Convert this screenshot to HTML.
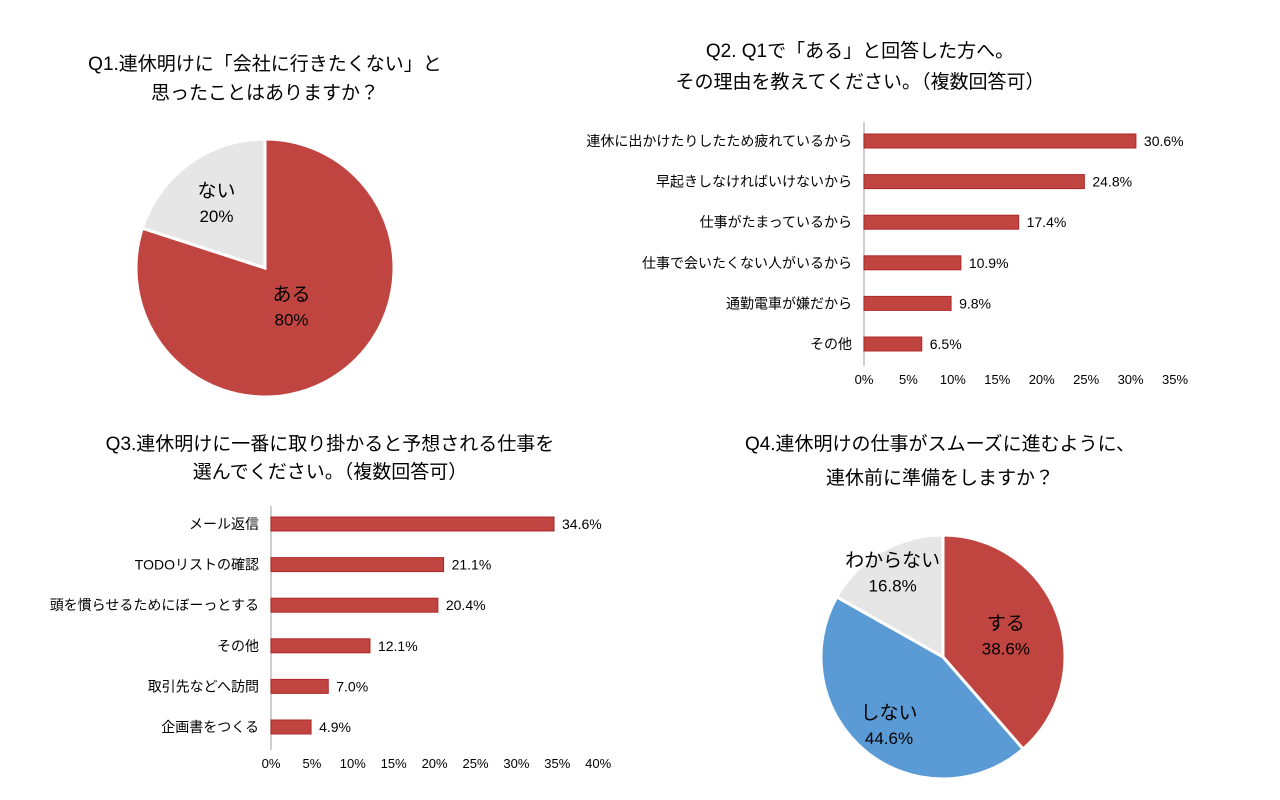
<!DOCTYPE html>
<html><head><meta charset="utf-8">
<style>
html,body{margin:0;padding:0;background:#fff;}
svg{display:block;font-family:"Liberation Sans","Noto Sans CJK JP",sans-serif;}
</style></head>
<body>
<svg id="s" width="1280" height="800" viewBox="0 0 1280 800" xmlns="http://www.w3.org/2000/svg">
<rect width="1280" height="800" fill="#fff"/>
<g font-size="19" fill="#000" text-anchor="middle">
<text x="265" y="70">Q1.連休明けに「会社に行きたくない」と</text>
<text x="265" y="99">思ったことはありますか？</text>
<text x="860" y="57">Q2. Q1で「ある」と回答した方へ。</text>
<text x="860" y="88">その理由を教えてください。（複数回答可）</text>
<text x="330" y="450">Q3.連休明けに一番に取り掛かると予想される仕事を</text>
<text x="330" y="478">選んでください。（複数回答可）</text>
<text x="940" y="450">Q4.連休明けの仕事がスムーズに進むように、</text>
<text x="940" y="484">連休前に準備をしますか？</text>
</g>
</svg>
<script>
const q1Labels=["ある","ない"];
const q1Values=[80,20];
const q1Text=["80%","20%"];
const q2Cats=["連休に出かけたりしたため疲れているから","早起きしなければいけないから","仕事がたまっているから","仕事で会いたくない人がいるから","通勤電車が嫌だから","その他"];
const q2Values=[30.6,24.8,17.4,10.9,9.8,6.5];
const q2Ticks=[0,5,10,15,20,25,30,35];
const q3Cats=["メール返信","TODOリストの確認","頭を慣らせるためにぼーっとする","その他","取引先などへ訪問","企画書をつくる"];
const q3Values=[34.6,21.1,20.4,12.1,7.0,4.9];
const q3Ticks=[0,5,10,15,20,25,30,35,40];
const q4Labels=["する","しない","わからない"];
const q4Values=[38.6,44.6,16.8];

const NS="http://www.w3.org/2000/svg";
const svg=document.getElementById('s');
function mk(tag,attrs,parent){const e=document.createElementNS(NS,tag);for(const k in attrs)e.setAttribute(k,attrs[k]);(parent||svg).appendChild(e);return e;}
function txt(x,y,s,size,anchor,parent){const t=mk('text',{x:x,y:y,'font-size':size,'text-anchor':anchor,fill:'#000'},parent);t.textContent=s;return t;}

function pie(cx,cy,r,vals,colors,labels,texts,labelPos,name){
  const g=mk('g',{});
  
  
  const tot=vals.reduce((a,b)=>a+b,0);let a0=0;
  vals.forEach((v,i)=>{
    const a1=a0+v/tot*2*Math.PI;
    const x0=cx+r*Math.sin(a0),y0=cy-r*Math.cos(a0),x1=cx+r*Math.sin(a1),y1=cy-r*Math.cos(a1);
    const p=mk('path',{d:`M${cx},${cy}L${x0},${y0}A${r},${r} 0 ${(a1-a0)>Math.PI?1:0} 1 ${x1},${y1}Z`,fill:colors[i],stroke:'#fff','stroke-width':3},g);
    
    
    const am=(a0+a1)/2,lr=r*labelPos[i];
    const lx=cx+lr*Math.sin(am),ly=cy-lr*Math.cos(am);
    const t1=txt(lx,ly-4,labels[i],19,'middle',g);
    
    
    const t2=txt(lx,ly+21,texts[i],17,'middle',g);
    
    
    a0=a1;
  });
}
pie(265,268,129,q1Values,['#c0443f','#e7e6e6'],q1Labels,q1Text,[0.35,0.64],'q1-pie');
pie(943,657,122,q4Values,['#c0443f','#5b9bd5','#e7e6e6'],q4Labels,q4Values.map(v=>v.toFixed(1)+'%'),[0.55,0.7,0.82],'q4-pie');

function bars(cats,vals,ticks,x0,pxPer,yFirst,step,axisTop,axisBottom,tickY,name){
  const g=mk('g',{});
  
  
  const xs=v=>x0+v*pxPer;
  const ax=mk('line',{x1:x0,x2:x0,y1:axisTop,y2:axisBottom,stroke:'#bfbfbf','stroke-width':1.5},g);
  
  
  cats.forEach((c,i)=>{
    const y=yFirst+i*step;
    const r=mk('rect',{x:x0,y:y-7,width:xs(vals[i])-x0,height:14,fill:'#c0443f',stroke:'#b0282a','stroke-width':1},g);
    
    
    const l=txt(x0-12,y+5,c,14,'end',g);
    
    
    const v=txt(xs(vals[i])+8,y+5,vals[i].toFixed(1)+'%',14,'start',g);
    
    
  });
  ticks.forEach(t=>{
    const k=txt(xs(t),tickY,t+'%',13,'middle',g);
    
    
  });
}
bars(q2Cats,q2Values,q2Ticks,864,8.886,141,40.6,122,366,384,'q2-bar-chart');
bars(q3Cats,q3Values,q3Ticks,271,8.18,524,40.6,506,750,768,'q3-bar-chart');
</script>
</body></html>
